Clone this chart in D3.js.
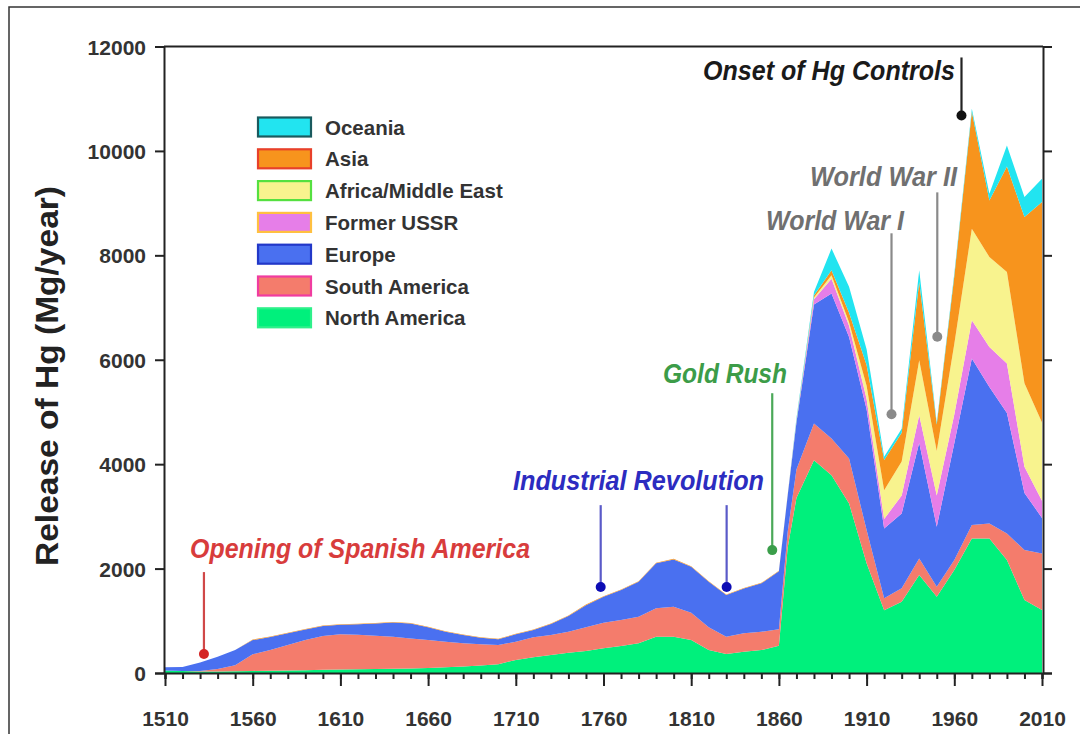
<!DOCTYPE html>
<html><head><meta charset="utf-8">
<script src="https://cdn.jsdelivr.net/npm/d3@7"></script>
<style>body{margin:0;background:#fff;} svg{display:block;font-family:"Liberation Sans",Arial,sans-serif;}</style>
</head><body><svg id="c" width="1080" height="734"></svg>
<script>
// ---------------- data ----------------
const years = [1510,1520,1530,1540,1550,1560,1570,1580,1590,1600,1610,1620,1630,1640,1650,1660,1670,1680,1690,1700,
  1710,1720,1730,1740,1750,1760,1770,1780,1790,1800,1810,1820,1830,1840,1850,1860,1865,
  1870,1880,1890,1900,1910,1920,1930,1940,1950,1960,1970,1980,1990,2000,2010];
const northAmerica = [50,40,30,30,35,40,45,50,55,60,65,70,75,80,85,95,110,125,145,170,
  249,300,345,389,421,472,517,568,695,695,632,440,364,408,440,520,2400,
  3350,4077,3790,3248,2100,1200,1365,1876,1460,1971,2578,2578,2163,1397,1206];
const southAmerica = [0,0,10,45,115,320,395,485,575,648,675,663,640,615,578,535,490,443,405,365,
  351,383,382,401,454,491,498,510,543,575,522,435,331,352,350,320,300,
  550,702,702,861,637,230,256,319,192,192,255,287,511,957,1085];
const europe = [60,75,160,235,290,270,250,225,205,192,185,199,235,270,287,245,190,159,126,110,
  140,140,211,301,425,497,574,670,862,906,881,873,798,860,927,1110,700,
  900,2281,2775,2328,2313,1339,1435,2215,1148,2237,3190,2615,2306,1096,679];
const formerUSSR = [0,0,0,0,0,0,0,0,0,0,0,0,0,0,0,0,0,0,0,0,
  0,0,0,0,0,0,0,0,0,0,0,0,0,0,0,0,0,
  20,100,283,213,200,181,344,528,600,550,733,765,947,500,330];
const africaMiddleEast = [0,0,0,0,0,0,0,0,0,0,0,0,0,0,0,0,0,0,0,0,
  0,0,0,0,0,0,0,0,0,0,0,0,0,0,0,0,0,
  10,30,70,70,250,550,650,1053,850,1350,1755,1723,1754,1600,1500];
const asia = [0,0,0,0,0,10,10,10,10,10,10,10,10,10,10,10,10,10,10,10,
  10,10,10,10,10,10,10,10,10,10,10,10,10,10,10,10,10,
  10,40,93,180,400,580,550,1500,510,1300,2239,1082,2019,3183,4221];
const oceania = [0,0,0,0,0,0,0,0,0,0,0,0,0,0,0,0,0,0,0,0,
  0,0,0,0,0,0,0,0,0,0,0,0,0,0,0,0,0,
  40,70,416,500,300,60,80,223,40,50,58,130,406,383,447];

const seriesNames = ["North America","South America","Europe","Former USSR","Africa/Middle East","Asia","Oceania"];
const seriesValues = [northAmerica, southAmerica, europe, formerUSSR, africaMiddleEast, asia, oceania];
const fills   = ["#00f07c","#f47c6c","#4a70f0","#e67ee8","#f8f38e","#f7941d","#22e4f0"];
const strokes = ["#2ef08a","#f03ca0","#2238c8","#ffc040","#55e040","#e8402a","#1a5a5e"];

const xTicks = [1510,1560,1610,1660,1710,1760,1810,1860,1910,1960,2010];
const yTicks = [0,2000,4000,6000,8000,10000,12000];

const annotations = [
  {text:"Opening of Spanish America", color:"#d83c3c", line:"#d04848", dot:"#d42424", year:1532.2, value:364, top:1933, tx:190, ty:558, tl:340},
  {text:"Industrial Revolution", color:"#2c2cc0", line:"#5a5ac8", dot:"#0c0cb4", year:1758.4, value:1646, top:3215, tx:513, ty:490, tl:251},
  {text:null, color:"#2c2cc0", line:"#5a5ac8", dot:"#0c0cb4", year:1830.2, value:1646, top:3215},
  {text:"Gold Rush", color:"#3c9c48", line:"#4aa858", dot:"#3a9e4a", year:1856.2, value:2354, top:5359, tx:663, ty:383, tl:124},
  {text:"World War I", color:"#707070", line:"#8a8a8a", dot:"#8a8a8a", year:1924.2, value:4957, top:8422, tx:766, ty:230, tl:138},
  {text:"World War II", color:"#707070", line:"#8a8a8a", dot:"#8a8a8a", year:1950.3, value:6440, top:9206, tx:810, ty:186, tl:147},
  {text:"Onset of Hg Controls", color:"#1a1a1a", line:"#222", dot:"#111", year:1964.1, value:10680, top:11790, tx:703, ty:80, tl:252}
];

// ---------------- chart ----------------
const svg = d3.select("#c");
const x = d3.scaleLinear().domain([1510,2010]).range([165,1042]);
const y = d3.scaleLinear().domain([0,12000]).range([673,46.5]);

// outer frame
svg.append("rect").attr("x",9).attr("y",7).attr("width",1200).attr("height",900)
  .attr("fill","none").attr("stroke","#333").attr("stroke-width",1.5);

const table = years.map((yr,i)=>{const o={year:yr}; seriesNames.forEach((n,k)=>o[n]=seriesValues[k][i]); return o;});
const stack = d3.stack().keys(seriesNames)(table);
const area = d3.area().x(d=>x(d.data.year)).y0(d=>y(d[0])).y1(d=>y(d[1])).curve(d3.curveLinear);
svg.append("g").selectAll("path").data(stack).join("path")
  .attr("d",area).attr("fill",(d,i)=>fills[i]).attr("stroke","none");

// axes
const axisG = svg.append("g");
const left = axisG.append("g").attr("transform","translate(164,0)").call(d3.axisLeft(y).tickValues(yTicks).tickSize(9).tickPadding(9).tickFormat(d3.format("d")));
const right = axisG.append("g").attr("transform","translate(1043,0)").call(d3.axisRight(y).tickValues(yTicks).tickSize(9).tickFormat(""));
const bottom = axisG.append("g").attr("transform","translate(0,673)").call(d3.axisBottom(x).tickValues(d3.range(1510,2011,10)).tickSize(6).tickFormat(""));
const bottomMaj = axisG.append("g").attr("transform","translate(0,673)").call(d3.axisBottom(x).tickValues(xTicks).tickSize(13).tickPadding(25).tickFormat(d3.format("d")));
[left,right,bottom,bottomMaj].forEach(g=>{
  g.attr("font-family","Liberation Sans, Arial, sans-serif");
  g.selectAll("path.domain").attr("stroke","#222").attr("stroke-width",2);
  g.selectAll(".tick line").attr("stroke","#222").attr("stroke-width",2);
  g.selectAll("text").attr("font-size",21).attr("font-weight","bold").attr("fill","#333");
});
bottomMaj.select("path.domain").remove();
left.selectAll("text").attr("dy","0.36em");
// top border
svg.append("line").attr("x1",164).attr("x2",1043).attr("y1",y(12000)).attr("y2",y(12000)).attr("stroke","#222").attr("stroke-width",2);

// y-axis title
svg.append("text").attr("transform","translate(58,376) rotate(-90)").attr("text-anchor","middle")
  .attr("font-size",31).attr("font-weight","bold").attr("fill","#222")
  .attr("textLength",380).attr("lengthAdjust","spacingAndGlyphs")
  .text("Release of Hg (Mg/year)");

// legend (top to bottom)
const legendOrder = [6,5,4,3,2,1,0];
const lg = svg.append("g");
legendOrder.forEach((k,i)=>{
  const cy = 127 + i*31.8;
  lg.append("rect").attr("x",258).attr("y",cy-9.5).attr("width",53).attr("height",19)
    .attr("fill",fills[k]).attr("stroke",strokes[k]).attr("stroke-width",2.2);
  lg.append("text").attr("x",325).attr("y",cy+7.5).attr("font-size",20.5).attr("font-weight","bold")
    .attr("fill","#333").text(seriesNames[k]);
});

// annotations
const ag = svg.append("g");
annotations.forEach(a=>{
  const ax = x(a.year);
  ag.append("line").attr("x1",ax).attr("x2",ax).attr("y1",y(a.top)).attr("y2",y(a.value))
    .attr("stroke",a.line).attr("stroke-width",2.2);
  ag.append("circle").attr("cx",ax).attr("cy",y(a.value)).attr("r",5).attr("fill",a.dot);
  if(a.text){
    ag.append("text").attr("x",a.tx).attr("y",a.ty).attr("font-size",27).attr("font-weight","bold")
      .attr("font-style","italic").attr("fill",a.color)
      .attr("textLength",a.tl).attr("lengthAdjust","spacingAndGlyphs").text(a.text);
  }
});
</script></body></html>
